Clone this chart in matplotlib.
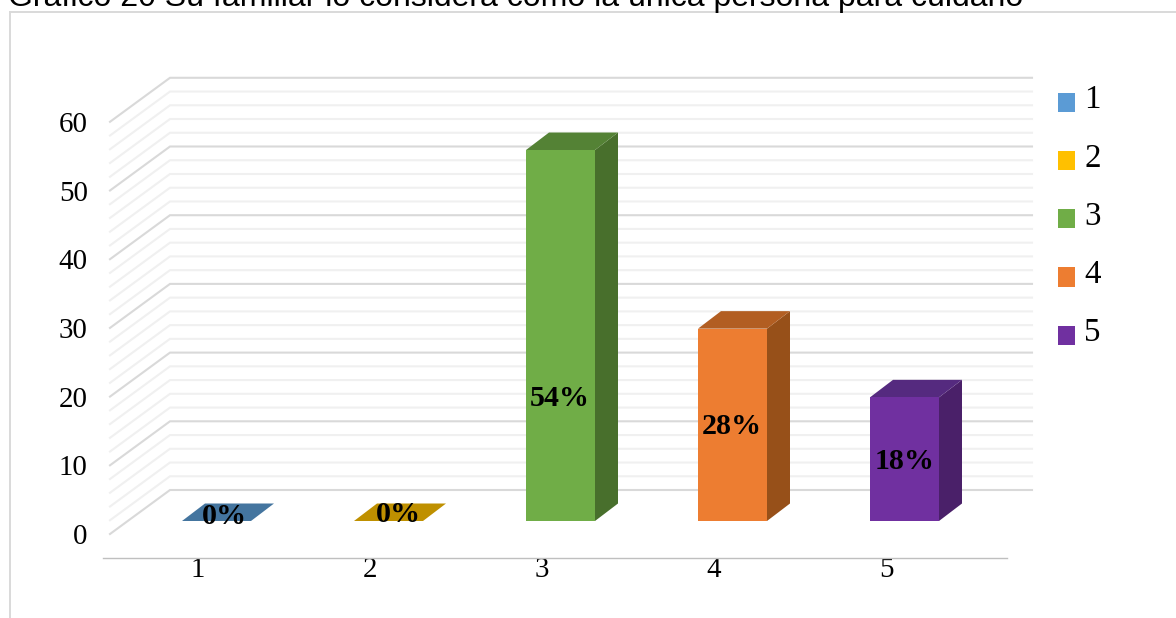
"""Gráfico 20: barras con efecto 3D dibujadas sobre ejes 2D"""
import matplotlib
matplotlib.use("Agg")
import matplotlib.pyplot as plt
from matplotlib.legend_handler import HandlerPatch
from matplotlib.lines import Line2D
from matplotlib.patches import Patch, Polygon, Rectangle

TITLE = "Gráfico 20 Su familiar lo considera como la única persona para cuidarlo"
categories = ["1", "2", "3", "4", "5"]
values = [0, 0, 54, 28, 18]
y_ticks = [0, 10, 20, 30, 40, 50, 60]

front_colors = ["#5B9BD5", "#FFC000", "#70AD47", "#ED7D31", "#7030A0"]
top_colors = ["#44759F", "#BF9000", "#548235", "#B25E22", "#552A7F"]
side_colors = ["#3A6387", "#A37B00", "#486F2C", "#975019", "#4A2069"]

W, H = 1176, 618
AX_L, AX_R, AX_T, AX_B = 103, 1007, 40, 558
PX_PER_CAT = 172.0
PX_PER_UNIT = 6.87
TEXT_PX = 29
SERIF = "Liberation Serif"

# desplazamiento de cada plano de profundidad, en pixeles
WALL_DX, WALL_DY = 60, 44
BAR_NEAR = (18.5, 13)
BAR_FAR = (41.5, 30.5)
BAR_HALF = 34.5 / PX_PER_CAT

# centro de las etiquetas respecto a la cara frontal (x en pixeles, y en unidades)
LABEL_SHIFT = [(8, 0.7), (10, 1.0), (-1, 17.8), (-0.5, 13.7), (0, 8.7)]


def pt(size_px):
    return size_px * 72.0 / 100.0


def shifted(x, y, dx=0, dy=0):
    return x + dx / PX_PER_CAT, y + dy / PX_PER_UNIT


def draw_grid(ax):
    x_left = 1 + (110 - 198) / PX_PER_CAT
    x_right = 1 + (1032 - 198 - WALL_DX) / PX_PER_CAT
    for v in range(0, 61, 2):
        major = v % 10 == 0
        color = "#D9D9D9" if major else "#F0F0F0"
        p0 = shifted(x_left, v)
        p1 = shifted(x_left, v, WALL_DX, WALL_DY)
        p2 = shifted(x_right, v, WALL_DX, WALL_DY)
        ax.plot([p0[0], p1[0], p2[0]], [p0[1], p1[1], p2[1]], color=color,
                lw=1.5, clip_on=False, zorder=1, solid_joinstyle="miter")


def draw_bar(ax, x, v, front, top, side):
    nx, ny = BAR_NEAR
    fx, fy = BAR_FAR
    xl, xr = x - BAR_HALF, x + BAR_HALF
    if v > 0:
        face = [shifted(xl, 0, nx, ny), shifted(xr, 0, nx, ny),
                shifted(xr, v, nx, ny), shifted(xl, v, nx, ny)]
        wall = [shifted(xr, 0, nx, ny), shifted(xr, 0, fx, fy),
                shifted(xr, v, fx, fy), shifted(xr, v, nx, ny)]
        ax.add_patch(Polygon(wall, closed=True, fc=side, ec="none", zorder=3))
        ax.add_patch(Polygon(face, closed=True, fc=front, ec="none", zorder=4))
    cap = [shifted(xl, v, nx, ny), shifted(xr, v, nx, ny),
           shifted(xr, v, fx, fy), shifted(xl, v, fx, fy)]
    ax.add_patch(Polygon(cap, closed=True, fc=top, ec="none", zorder=3))


def legend_square(legend, orig_handle, xdescent, ydescent, width, height, fontsize):
    # el cuadro queda algo por debajo del centro del texto
    return Rectangle((-xdescent, -ydescent - 4), width, height)


fig = plt.figure(figsize=(W / 100, H / 100), dpi=100, facecolor="white")
ax = fig.add_axes([AX_L / W, 1 - AX_B / H, (AX_R - AX_L) / W, (AX_B - AX_T) / H])
ax.set_xlim(1 + (AX_L - 198) / PX_PER_CAT, 1 + (AX_R - 198) / PX_PER_CAT)
ax.set_ylim((534 - AX_B) / PX_PER_UNIT, (534 - AX_T) / PX_PER_UNIT)

draw_grid(ax)
positions = list(range(1, len(categories) + 1))
for i, x in enumerate(positions):
    draw_bar(ax, x, values[i], front_colors[i], top_colors[i], side_colors[i])
    sx, sy = LABEL_SHIFT[i]
    lx, ly = shifted(x, sy, BAR_NEAR[0] + sx, BAR_NEAR[1])
    ax.text(lx, ly, "%d%%" % values[i], ha="center", va="center", color="black",
            fontsize=pt(30), fontweight="bold", family=SERIF, zorder=6)

ax.patch.set_visible(False)
for name in ("top", "left", "right"):
    ax.spines[name].set_visible(False)
ax.spines["bottom"].set_color("#BFBFBF")
ax.spines["bottom"].set_linewidth(1.0)

ax.set_xticks(positions)
ax.set_xticklabels(categories, family=SERIF, fontsize=pt(TEXT_PX))
ax.set_yticks(y_ticks)
ax.set_yticklabels([str(t) for t in y_ticks], family=SERIF, fontsize=pt(TEXT_PX))
ax.tick_params(axis="x", length=0, pad=-1)
ax.tick_params(axis="y", length=0, pad=11)

handles = [Patch(fc=c, ec="none", label=n) for c, n in zip(front_colors, categories)]
fig.legend(handles=handles, loc="upper left", bbox_to_anchor=(1058 / W, 1 - 85 / H),
           bbox_transform=fig.transFigure, frameon=False, ncol=1, borderpad=0, borderaxespad=0,
           handlelength=0.52, handleheight=0.52, handletextpad=0.28, labelspacing=0.84,
           handler_map={Patch: HandlerPatch(patch_func=legend_square)},
           prop={"family": SERIF, "size": pt(33)})

# marco parcial del grafico y titulo recortado por el borde superior
frame = "#D9D9D9"
fig.add_artist(Line2D([10 / W, 10 / W], [0, 1 - 12 / H], color=frame, lw=1.4))
fig.add_artist(Line2D([10 / W, 1], [1 - 12 / H, 1 - 12 / H], color=frame, lw=1.4))
fig.text(8 / W, 1 - 6 / H, TITLE, family="Liberation Sans", fontsize=pt(32),
         color="black", ha="left", va="baseline")

fig.savefig("out.png", dpi=100)
